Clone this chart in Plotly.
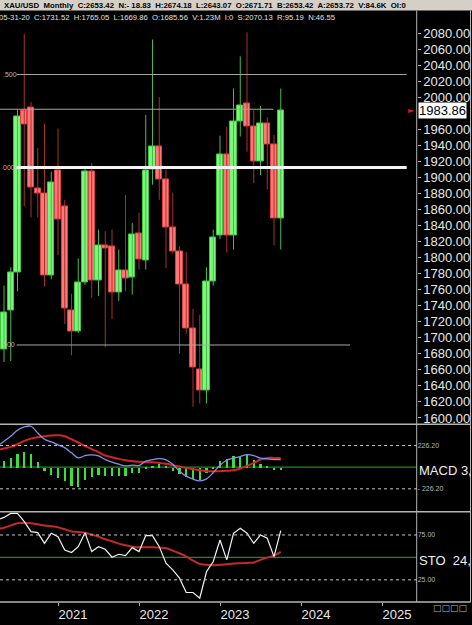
import plotly.graph_objects as go

W, H = 472, 625

# monthly XAU/USD candles, Apr 2020 .. Oct 2023
months = ["2020-04", "2020-05", "2020-06", "2020-07", "2020-08", "2020-09", "2020-10", "2020-11", "2020-12",
          "2021-01", "2021-02", "2021-03", "2021-04", "2021-05", "2021-06", "2021-07", "2021-08", "2021-09",
          "2021-10", "2021-11", "2021-12", "2022-01", "2022-02", "2022-03", "2022-04", "2022-05", "2022-06",
          "2022-07", "2022-08", "2022-09", "2022-10", "2022-11", "2022-12", "2023-01", "2023-02", "2023-03",
          "2023-04", "2023-05", "2023-06", "2023-07", "2023-08", "2023-09", "2023-10"]
open_ = [1577, 1685.56, 1734, 1781, 1984, 1987, 1886, 1880, 1778,
         1909, 1864, 1734, 1708, 1769, 1907, 1771, 1815, 1814,
         1757, 1784, 1775, 1830, 1797, 1910, 1938, 1898, 1838,
         1808, 1767, 1712, 1660, 1634, 1770, 1827, 1929, 1828,
         1970, 1992, 1963, 1920, 1967, 1941, 1849]
high = [1748, 1765.05, 1788, 1985, 2079, 1994, 1937, 1967, 1907,
        1961, 1872, 1755, 1799, 1913, 1918, 1835, 1833, 1835,
        1810, 1878, 1843, 1856, 1978, 2072, 2000, 1910, 1881,
        1814, 1807, 1736, 1729, 1788, 1835, 1952, 1963, 2011,
        2051, 2081, 1984, 1989, 1975, 1953, 2011]
low = [1567, 1669.86, 1671, 1758, 1864, 1850, 1850, 1764, 1773,
       1803, 1717, 1678, 1706, 1766, 1750, 1752, 1688, 1723,
       1746, 1758, 1754, 1785, 1785, 1891, 1872, 1787, 1805,
       1680, 1705, 1614, 1618, 1618, 1765, 1823, 1806, 1810,
       1951, 1932, 1893, 1903, 1885, 1815, 1810]
close = [1686, 1731.52, 1781, 1976, 1966, 1887, 1880, 1778, 1894,
         1847, 1736, 1708, 1769, 1907, 1771, 1815, 1812, 1756,
         1784, 1774, 1829, 1798, 1909, 1938, 1898, 1838, 1808,
         1767, 1712, 1663, 1634, 1770, 1825, 1929, 1828, 1970,
         1990, 1964, 1920, 1967, 1941, 1849, 1983.86]

macd = [219, 271, 324, 386, 421, 428, 358, 292, 264, 233, 205, 150, 97, 122, 129, 118, 80, 52, 31, 14,
        21, 17, 63, 80, 90, 77, 31, -42, -94, -125, -143, -122, -56, 21, 73, 94, 111, 132, 122, 94,
        87, 80, 80]
signal = [177, 195, 212, 240, 275, 299, 313, 324, 331, 334, 324, 292, 258, 223, 188, 157, 122, 104, 87, 73,
          63, 56, 52, 52, 45, 35, 21, 7, -7, -21, -31, -42, -42, -42, -38, -31, -14, 14, 45, 80,
          97, 97, 97]
hist = [45, 73, 101, 143, 164, 143, 63, -38, -73, -108, -136, -188, -198, -129, -101, -77, -84, -90, -90, -84,
        -59, -59, -14, 10, 38, 14, -31, -66, -101, -118, -129, -59, -17, 66, 90, 125, 115, 136, 80, 38,
        10, -24, -24]
sto_k = [91.7, 94.6, 99, 99, 89.8, 78.7, 77.6, 65.7, 76.9, 73.1, 58.3, 55.4, 62, 77.6, 56.5, 62, 59.1, 50.2,
         53.5, 52, 60.9, 56.5, 74.3, 74.3, 62, 43.5, 36.1, 26.9, 10.9, 10.9, 4.6, 34, 45.4, 69.4, 47.2, 76.9,
         82.4, 76.9, 65.7, 75, 71.3, 50.9, 79.8]
sto_d = [81.7, 83.1, 85.7, 88, 88.3, 88, 86.9, 85.7, 84.8, 83.5, 81.3, 79, 78.3, 77.6, 75.7, 73.1, 70.2, 68,
         65.4, 63.5, 62, 61.3, 61.3, 61.3, 60.9, 60.2, 57.6, 54.6, 50.9, 46.5, 42.8, 41.7, 41.3, 41.7, 42.4,
         43.1, 43.5, 43.9, 44.3, 47.2, 49.8, 52, 56.1]

year_labels = ["2021", "2022", "2023", "2024", "2025"]
price_ticks = [1600, 1620, 1640, 1660, 1680, 1700, 1720, 1740, 1760, 1780, 1800, 1820, 1840, 1860,
               1880, 1900, 1920, 1940, 1960, 2000, 2020, 2040, 2060, 2080]
last_price = 1983.86

x = list(range(len(months)))
year_pos = [months.index("2021-01") + 12 * k for k in range(len(year_labels))]


def px(v):
    return v / W


def py(v):
    return 1 - v / H


# candle bodies and wicks
up = [c >= o for o, c in zip(open_, close)]
wx_up, wy_up, wx_dn, wy_dn = [], [], [], []
for i in x:
    if up[i]:
        wx_up += [i, i, None]
        wy_up += [low[i], high[i], None]
    else:
        wx_dn += [i, i, None]
        wy_dn += [low[i], high[i], None]

fig = go.Figure()
fig.add_trace(go.Scatter(x=wx_up, y=wy_up, mode="lines", line=dict(color="#4cb84c", width=1),
                         hoverinfo="skip", showlegend=False))
fig.add_trace(go.Scatter(x=wx_dn, y=wy_dn, mode="lines", line=dict(color="#a83030", width=1),
                         hoverinfo="skip", showlegend=False))
fig.add_trace(go.Bar(
    x=x, base=[min(o, c) for o, c in zip(open_, close)],
    y=[max(abs(c - o), 0.8) for o, c in zip(open_, close)],
    width=0.92,
    marker=dict(color=["#7af87a" if u else "#ff7878" for u in up],
                line=dict(color=["#3cc83c" if u else "#e04040" for u in up], width=1)),
    showlegend=False))

# MACD panel
fig.add_trace(go.Bar(x=x, y=hist, width=0.3, marker=dict(color="#38e038", line=dict(width=0)),
                     yaxis="y2", showlegend=False))
fig.add_trace(go.Scatter(x=x, y=signal, mode="lines", line=dict(color="#d42424", width=2, shape="spline"),
                         yaxis="y2", showlegend=False))
fig.add_trace(go.Scatter(x=x, y=macd, mode="lines", line=dict(color="#8c8cf0", width=1.3, shape="spline"),
                         yaxis="y2", showlegend=False))

# STO panel
fig.add_trace(go.Scatter(x=x, y=sto_d, mode="lines", line=dict(color="#c42a2a", width=2, shape="spline"),
                         yaxis="y3", showlegend=False))
fig.add_trace(go.Scatter(x=x, y=sto_k, mode="lines", line=dict(color="#f4f4f4", width=1.2),
                         yaxis="y3", showlegend=False))

gray = "#b4b4b4"
shapes = [
    dict(type="rect", xref="paper", yref="paper", x0=0, x1=1, y0=py(10.5), y1=1,
         fillcolor="#d4d0c8", line=dict(width=0)),
    # panel frames
    dict(type="line", xref="paper", yref="paper", x0=px(416.7), x1=px(416.7), y0=py(604), y1=py(10.5),
         line=dict(color=gray, width=1)),
    dict(type="line", xref="paper", yref="paper", x0=px(470.5), x1=px(470.5), y0=py(604), y1=py(10.5),
         line=dict(color=gray, width=1)),
    dict(type="line", xref="paper", yref="paper", x0=0, x1=px(470.5), y0=py(425.5), y1=py(425.5),
         line=dict(color=gray, width=1.5)),
    dict(type="line", xref="paper", yref="paper", x0=0, x1=px(470.5), y0=py(513.3), y1=py(513.3),
         line=dict(color=gray, width=1.5)),
    dict(type="line", xref="paper", yref="paper", x0=0, x1=px(470.5), y0=py(604), y1=py(604),
         line=dict(color=gray, width=1.5)),
    # price panel horizontal lines
    dict(type="line", xref="paper", yref="y", x0=px(16.7), x1=px(406.7), y0=2028.3, y1=2028.3,
         line=dict(color="#a8a8a0", width=1)),
    dict(type="line", xref="paper", yref="y", x0=0, x1=px(273.3), y0=1985, y1=1985,
         line=dict(color="#a4a896", width=1)),
    dict(type="line", xref="paper", yref="y", x0=px(16.7), x1=px(406.7), y0=1912.5, y1=1912.5,
         line=dict(color="#f4f4f4", width=3)),
    dict(type="line", xref="paper", yref="y", x0=px(16.7), x1=px(350), y0=1691, y1=1691,
         line=dict(color="#a8a8a8", width=1)),
    # MACD guides
    dict(type="line", xref="paper", yref="y2", x0=0, x1=px(416.7), y0=226.2, y1=226.2,
         line=dict(color="#c8c8c8", width=1, dash="dot")),
    dict(type="line", xref="paper", yref="y2", x0=0, x1=px(416.7), y0=-226.2, y1=-226.2,
         line=dict(color="#c8c8c8", width=1, dash="dot")),
    dict(type="line", xref="paper", yref="y2", x0=0, x1=px(416.7), y0=0, y1=0,
         line=dict(color="#1e8a1e", width=1.2), layer="below"),
    # STO guides
    dict(type="line", xref="paper", yref="y3", x0=0, x1=px(416.7), y0=75, y1=75,
         line=dict(color="#c8c8c8", width=1, dash="dot")),
    dict(type="line", xref="paper", yref="y3", x0=0, x1=px(416.7), y0=25, y1=25,
         line=dict(color="#c8c8c8", width=1, dash="dot")),
    dict(type="line", xref="paper", yref="y3", x0=0, x1=px(416.7), y0=50, y1=50,
         line=dict(color="#1e8a1e", width=1.2), layer="below"),
]

small = dict(family="Arial", size=7, color="#b8b8b8")
annotations = [
    dict(xref="paper", yref="paper", x=px(2), y=py(5.5), xanchor="left", yanchor="middle", showarrow=False,
         text="XAU/USD  Monthly  C:2653.42  N:- 18.83  H:2674.18  L:2643.07  O:2671.71  B:2653.42  A:2653.72  V:84.6K  OI:0",
         font=dict(family="Arial", size=7.8, color="#000000", weight="bold")),
    dict(xref="paper", yref="paper", x=px(-3), y=py(18), xanchor="left", yanchor="middle", showarrow=False,
         text="05-31-20  C:1731.52  H:1765.05  L:1669.86  O:1685.56  V:1.23M  I:0  S:2070.13  R:95.19  N:46.55",
         font=dict(family="Arial", size=7.7, color="#e0e0e0")),
    dict(xref="paper", yref="y", x=px(1), y=2028.3, xanchor="left", yanchor="middle", showarrow=False,
         text=".500", font=small),
    dict(xref="paper", yref="y", x=px(1), y=1912.5, xanchor="left", yanchor="middle", showarrow=False,
         text="000", font=small),
    dict(xref="paper", yref="y", x=px(1), y=1691, xanchor="left", yanchor="middle", showarrow=False,
         text="500", font=small),
    dict(xref="paper", yref="y", x=px(418), y=last_price, xanchor="left", yanchor="middle", showarrow=False,
         text=f"{last_price:.2f}", bgcolor="#ffffff", borderpad=0,
         font=dict(family="Arial", size=13, color="#000000")),
    dict(xref="paper", yref="y", x=px(406), y=last_price, xanchor="left", yanchor="middle", showarrow=False,
         text="►", font=dict(family="DejaVu Sans", size=8, color="#e01818")),
    dict(xref="paper", yref="y2", x=px(417), y=-30, xanchor="left", yanchor="middle", showarrow=False,
         text="MACD 3,", font=dict(family="Arial", size=13, color="#f0f0f0")),
    dict(xref="paper", yref="y3", x=px(417), y=47, xanchor="left", yanchor="middle", showarrow=False,
         text="STO\u00a0\u00a024,", font=dict(family="Arial", size=13, color="#f0f0f0")),
    dict(xref="paper", yref="paper", x=px(469), y=py(610), xanchor="right", yanchor="middle", showarrow=False,
         text="□□□□", font=dict(family="DejaVu Sans", size=9, color="#b0b0b0")),
]

fig.update_layout(
    width=W, height=H,
    margin=dict(l=0, r=0, t=0, b=0),
    paper_bgcolor="#000000", plot_bgcolor="#000000",
    barmode="overlay", bargap=0,
    hovermode=False,
    shapes=shapes, annotations=annotations,
    xaxis=dict(domain=[0, px(416.7)], range=[0.4074, 62.14], anchor="y3",
               tickmode="array", tickvals=year_pos, ticktext=year_labels,
               ticks="outside", ticklen=3, tickcolor=gray, ticklabelposition="outside right",
               tickfont=dict(family="Arial", size=13, color="#e8e8e8"),
               showgrid=False, zeroline=False, showline=False),
    yaxis=dict(domain=[py(425), py(10.5)], range=[1592.9, 2108.2], side="right", anchor="x",
               tickmode="array", tickvals=price_ticks, ticktext=[f"{v:.2f}" for v in price_ticks],
               ticks="outside", ticklen=3, tickcolor=gray,
               tickfont=dict(family="Arial", size=13, color="#e8e8e8"),
               showgrid=False, zeroline=False, showline=False),
    yaxis2=dict(domain=[py(513), py(426)], range=[-461.6, 444.9], side="right", anchor="x",
                tickmode="array", tickvals=[226.2, -226.2], ticktext=["226.20", "- 226.20"],
                ticks="", tickfont=small, showgrid=False, zeroline=False, showline=False),
    yaxis3=dict(domain=[py(604), py(513.3)], range=[0.22, 101], side="right", anchor="x",
                tickmode="array", tickvals=[75, 25], ticktext=["75.00", "25.00"],
                ticks="", tickfont=small, showgrid=False, zeroline=False, showline=False),
)

# the page's default body margin would push the chart off by 8px
fig.write_html("out.html", config={"displayModeBar": False},
               post_script="document.body.style.margin='0';document.body.style.background='#000';")
